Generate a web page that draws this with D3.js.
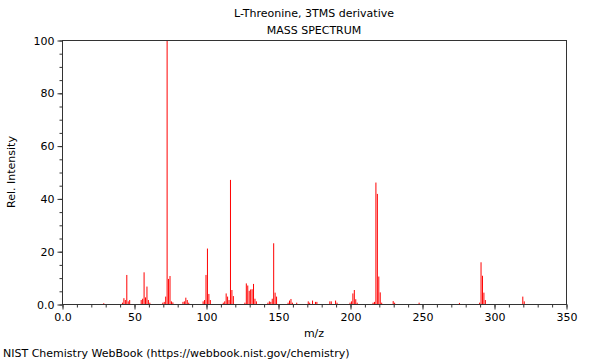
<!DOCTYPE html>
<html><head><meta charset="utf-8">
<script src="https://cdn.jsdelivr.net/npm/d3@7"></script>
<style>body{margin:0;background:#fff}text{font-family:"DejaVu Sans",sans-serif;fill:#000}</style>
</head><body><svg id="c" width="600" height="360"></svg>
<script>
const title = "L-Threonine, 3TMS derivative";
const subtitle = "MASS SPECTRUM";
const mz = [29,42,43,44,45,46,47,55,56,57,58,59,60,61,70,71,72,73,74,75,76,77,84,85,86,87,88,98,99,100,101,102,103,112,113,114,115,116,117,118,119,127,128,129,130,131,132,133,134,135,143,144,145,146,147,148,149,157,158,159,160,163,171,172,174,176,177,186,187,190,191,200,201,202,203,204,205,216,217,218,219,220,221,222,230,231,248,276,290,291,292,293,294,320,321];
const intensity = [0.3,0.5,2.2,1.5,11,1.0,1.5,1.5,2.0,12,2.5,6.6,1.5,0.5,0.5,0.8,2.8,100,9.5,10.6,1.0,0.6,0.8,1.0,2.4,1.5,0.5,1.0,1.5,11,21,3.8,1.5,0.5,1.0,4,2.8,1.5,47,5.3,3,0.5,7.8,7,5,5.5,5.6,7.6,2,1,0.5,1,0.8,2,23,4.3,2.8,0.5,1.3,1.9,0.5,0.5,1,0.5,1.3,0.8,0.8,1,1,1.3,0.5,0.5,1.0,4,5.3,1.8,0.5,0.5,0.8,46,41.7,10.4,4.4,0.5,1.1,0.5,0.5,0.4,0.5,15.8,10.7,4.3,1.5,2.8,1.0];
const xTicks = [0,50,100,150,200,250,300,350];
const yTicks = [0,20,40,60,80,100];

const svg = d3.select("#c");
const L=62,R=566,T=40,B=304;
const x = d3.scaleLinear().domain([0,350]).range([L,R]);
const y = d3.scaleLinear().domain([0,100]).range([B,T]);

svg.append("text").attr("x",(L+R)/2).attr("y",17).attr("text-anchor","middle").attr("font-size",11).text(title);
svg.append("text").attr("x",(L+R)/2).attr("y",34).attr("text-anchor","middle").attr("font-size",11).text(subtitle);

// peaks
svg.append("g").selectAll("line").data(mz).join("line")
  .attr("x1",d=>x(d)).attr("x2",d=>x(d))
  .attr("y1",y(0)).attr("y2",(d,i)=>y(intensity[i]))
  .attr("stroke","#ff0000").attr("stroke-width",1);

// frame
svg.append("rect").attr("x",L+0.5).attr("y",T+0.5).attr("width",R-L).attr("height",B-T)
  .attr("fill","none").attr("stroke","#333").attr("stroke-width",1);

// x axis
const xa = svg.append("g").attr("transform",`translate(0.5,${B+0.5})`);
xa.call(d3.axisBottom(x).tickValues(d3.range(0,351,10)).tickSize(3).tickFormat(""));
xa.selectAll("path").remove();
const xb = svg.append("g").attr("transform",`translate(0.5,${B+0.5})`);
xb.call(d3.axisBottom(x).tickValues(xTicks).tickSize(5).tickPadding(4).tickFormat(d=>d===0?"0.0":d));
xb.selectAll("path").remove();
xb.selectAll("text").attr("font-size",11).attr("font-family","DejaVu Sans").attr("fill","#000");
svg.selectAll(".tick line").attr("stroke","#333");

// y axis
const ya = svg.append("g").attr("transform",`translate(${L+0.5},0.5)`);
ya.call(d3.axisLeft(y).tickValues(d3.range(0,101,5)).tickSize(3).tickFormat(""));
ya.selectAll("path").remove();
const yb = svg.append("g").attr("transform",`translate(${L+0.5},0.5)`);
yb.call(d3.axisLeft(y).tickValues(yTicks).tickSize(5).tickPadding(3).tickFormat(d=>d===0?"0.0":d));
yb.selectAll("path").remove();
yb.selectAll("text").attr("font-size",11).attr("font-family","DejaVu Sans").attr("fill","#000");
svg.selectAll(".tick line").attr("stroke","#333");

svg.append("text").attr("x",(L+R)/2).attr("y",337).attr("text-anchor","middle").attr("font-size",11).text("m/z");
svg.append("text").attr("transform",`translate(15,${(T+B)/2}) rotate(-90)`).attr("text-anchor","middle").attr("font-size",11).text("Rel. Intensity");
svg.append("text").attr("x",3).attr("y",357).attr("font-size",11).text("NIST Chemistry WebBook (https://webbook.nist.gov/chemistry)");
</script></body></html>
